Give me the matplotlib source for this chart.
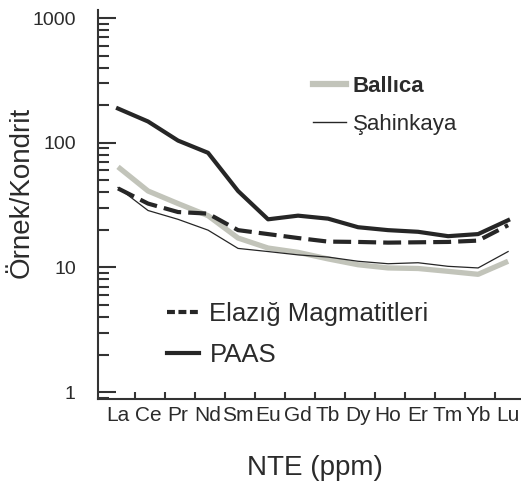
import matplotlib
matplotlib.use('Agg')
import numpy as np
import matplotlib.pyplot as plt
from matplotlib.lines import Line2D

plt.rcParams['font.family'] = ['Liberation Sans', 'DejaVu Sans']

# chondrite-normalised REE values
ree = ['La', 'Ce', 'Pr', 'Nd', 'Sm', 'Eu', 'Gd', 'Tb', 'Dy', 'Ho', 'Er', 'Tm', 'Yb', 'Lu']
ballica = [64, 41, 32.5, 26, 17.2, 14.3, 13.2, 11.7, 10.5, 9.9, 9.8, 9.3, 8.8, 11.2]
sahinkaya = [43.7, 28.6, 24.3, 19.9, 14.2, 13.4, 12.6, 12.1, 11.2, 10.7, 10.9, 10.2, 9.9, 13.4]
elazig = [43, 32.5, 27.8, 27, 19.9, 18.5, 17.2, 16.1, 16.0, 15.8, 15.9, 16.0, 16.4, 21.8]
paas = [188, 148, 104, 83, 41, 24.3, 26, 24.6, 21, 19.9, 19.3, 17.8, 18.5, 23.9]

gray = '#c2c4ba'
dark = '#262626'
tcol = '#2b2b2b'

fig = plt.figure(figsize=(5.21, 4.91), dpi=100)
ax = fig.add_axes([98/521, 92/491, 423/521, 389/491])

x = np.arange(len(ree))
ax.plot(x, ballica, color=gray, lw=3.8, solid_capstyle='butt')
ax.plot(x, sahinkaya, color=dark, lw=0.9)
ax.plot(x, elazig, color=dark, lw=3, dashes=(4.3, 1.7))
ax.plot(x, paas, color=dark, lw=3)

ax.set_yscale('log')
ax.set_ylim(0.88, 1160)
ax.set_xlim(-0.667, 13.43)

ax.spines['top'].set_visible(False)
ax.spines['right'].set_visible(False)
for s in ['left', 'bottom']:
    ax.spines[s].set_linewidth(1.5)
    ax.spines[s].set_color('#333333')

ax.set_yticks([1, 10, 100, 1000])
ax.set_yticklabels(['1', '10', '100', '1000'])
ax.tick_params(axis='y', which='major', direction='in', length=13, width=1.5,
               pad=16, labelsize=14, colors='#333333', labelcolor=tcol)
ax.tick_params(axis='y', which='minor', direction='in', length=8, width=1.5, colors='#333333')

ax.set_xticks(x)
ax.set_xticklabels(ree)
ax.set_xticks(x[:-1] + 0.57, minor=True)
ax.tick_params(axis='x', which='major', length=0, pad=5, labelsize=15, labelcolor=tcol)
ax.tick_params(axis='x', which='minor', direction='in', length=5, width=1.5, colors='#333333')

ax.set_ylabel('Örnek/Kondrit', fontsize=20, color=tcol)
ax.yaxis.set_label_coords(-0.151, 0.532)
ax.set_xlabel('NTE (ppm)', fontsize=20, color=tcol)
ax.xaxis.set_label_coords(0.513, -0.145)

h_bal = Line2D([], [], color=gray, lw=4.5)
h_sah = Line2D([], [], color=dark, lw=1)
leg1 = ax.legend([h_bal, h_sah], ['Ballıca', 'Şahinkaya'], loc='upper left',
                 bbox_to_anchor=(313/521, 1 - 76/491), bbox_transform=fig.transFigure,
                 frameon=False, handlelength=1.5, handletextpad=0.3, labelspacing=0.75,
                 borderpad=0, borderaxespad=0, prop=dict(size=16))
leg1.get_texts()[0].set_fontweight('bold')
for t in leg1.get_texts():
    t.set_color(tcol)
ax.add_artist(leg1)

h_ela = Line2D([], [], color=dark, lw=3, dashes=(1.9, 0.85))
h_paas = Line2D([], [], color=dark, lw=3)
leg2 = ax.legend([h_ela, h_paas], ['Elazığ Magmatitleri', 'PAAS'], loc='upper left',
                 bbox_to_anchor=(167/521, 1 - 302/491), bbox_transform=fig.transFigure,
                 frameon=False, handlelength=1.25, handletextpad=0.4, labelspacing=0.66,
                 borderpad=0, borderaxespad=0, prop=dict(size=18.5))
for t in leg2.get_texts():
    t.set_color(tcol)

fig.savefig('out.png', dpi=100)
